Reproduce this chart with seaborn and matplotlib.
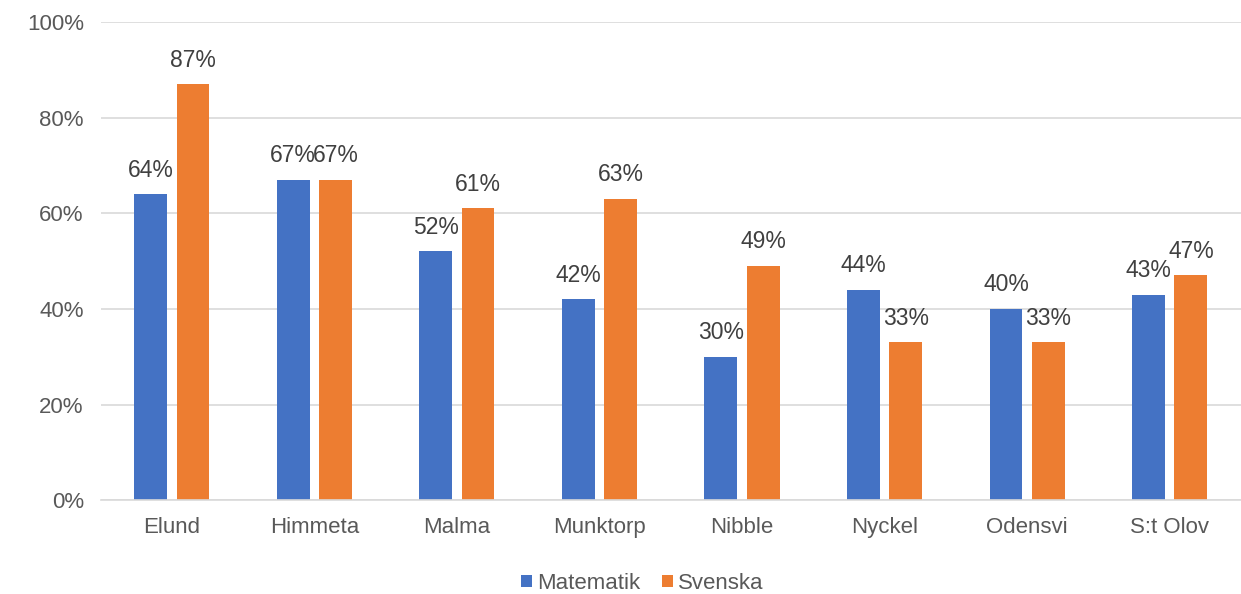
import pandas as pd
import matplotlib.pyplot as plt
import seaborn as sns

schools = ['Elund', 'Himmeta', 'Malma', 'Munktorp', 'Nibble', 'Nyckel', 'Odensvi', 'S:t Olov']
matematik = [64, 67, 52, 42, 30, 44, 40, 43]
svenska = [87, 67, 61, 63, 49, 33, 33, 47]
subjects = ['Matematik', 'Svenska']
colors = ['#4472C4', '#ED7D31']

df = pd.DataFrame({
    'skola': schools * 2,
    'andel': matematik + svenska,
    'amne': ['Matematik'] * len(schools) + ['Svenska'] * len(schools),
})

sns.set_style('white')
plt.rcParams['font.family'] = ['Liberation Sans', 'DejaVu Sans']

fig = plt.figure(figsize=(12.41, 5.94), dpi=100)
ax = fig.add_axes([0.081, 0.158, 0.919, 0.805])

sns.barplot(data=df, x='skola', y='andel', hue='amne', hue_order=subjects,
            palette=colors, width=0.594, gap=0.225, ax=ax, saturation=1,
            linewidth=0)

for c in ax.containers:
    ax.bar_label(c, labels=[f'{int(v)}%' for v in c.datavalues], padding=9,
                 fontsize=16.5, color='#404040')

ax.set_ylim(0, 100)
ax.set_xlim(-0.5, 7.5)
ax.set_yticks(range(0, 101, 20))
ax.set_yticklabels([f'{v}%' for v in range(0, 101, 20)])
ax.yaxis.grid(True, color='#D9D9D9', linewidth=1.2)
ax.set_axisbelow(True)
for s in ['top', 'right', 'left']:
    ax.spines[s].set_visible(False)
ax.spines['bottom'].set_color('#D9D9D9')
ax.spines['bottom'].set_linewidth(1.2)
ax.tick_params(axis='both', length=0, labelsize=16, labelcolor='#595959', pad=12)
ax.set_xlabel('')
ax.set_ylabel('')

ax.legend(loc='upper center', bbox_to_anchor=(0.475, -0.11), ncol=2, frameon=False,
          fontsize=16, labelcolor='#595959', handlelength=0.5, handleheight=0.5,
          handletextpad=0.2, columnspacing=1.0)

fig.savefig('out.png', dpi=100)
